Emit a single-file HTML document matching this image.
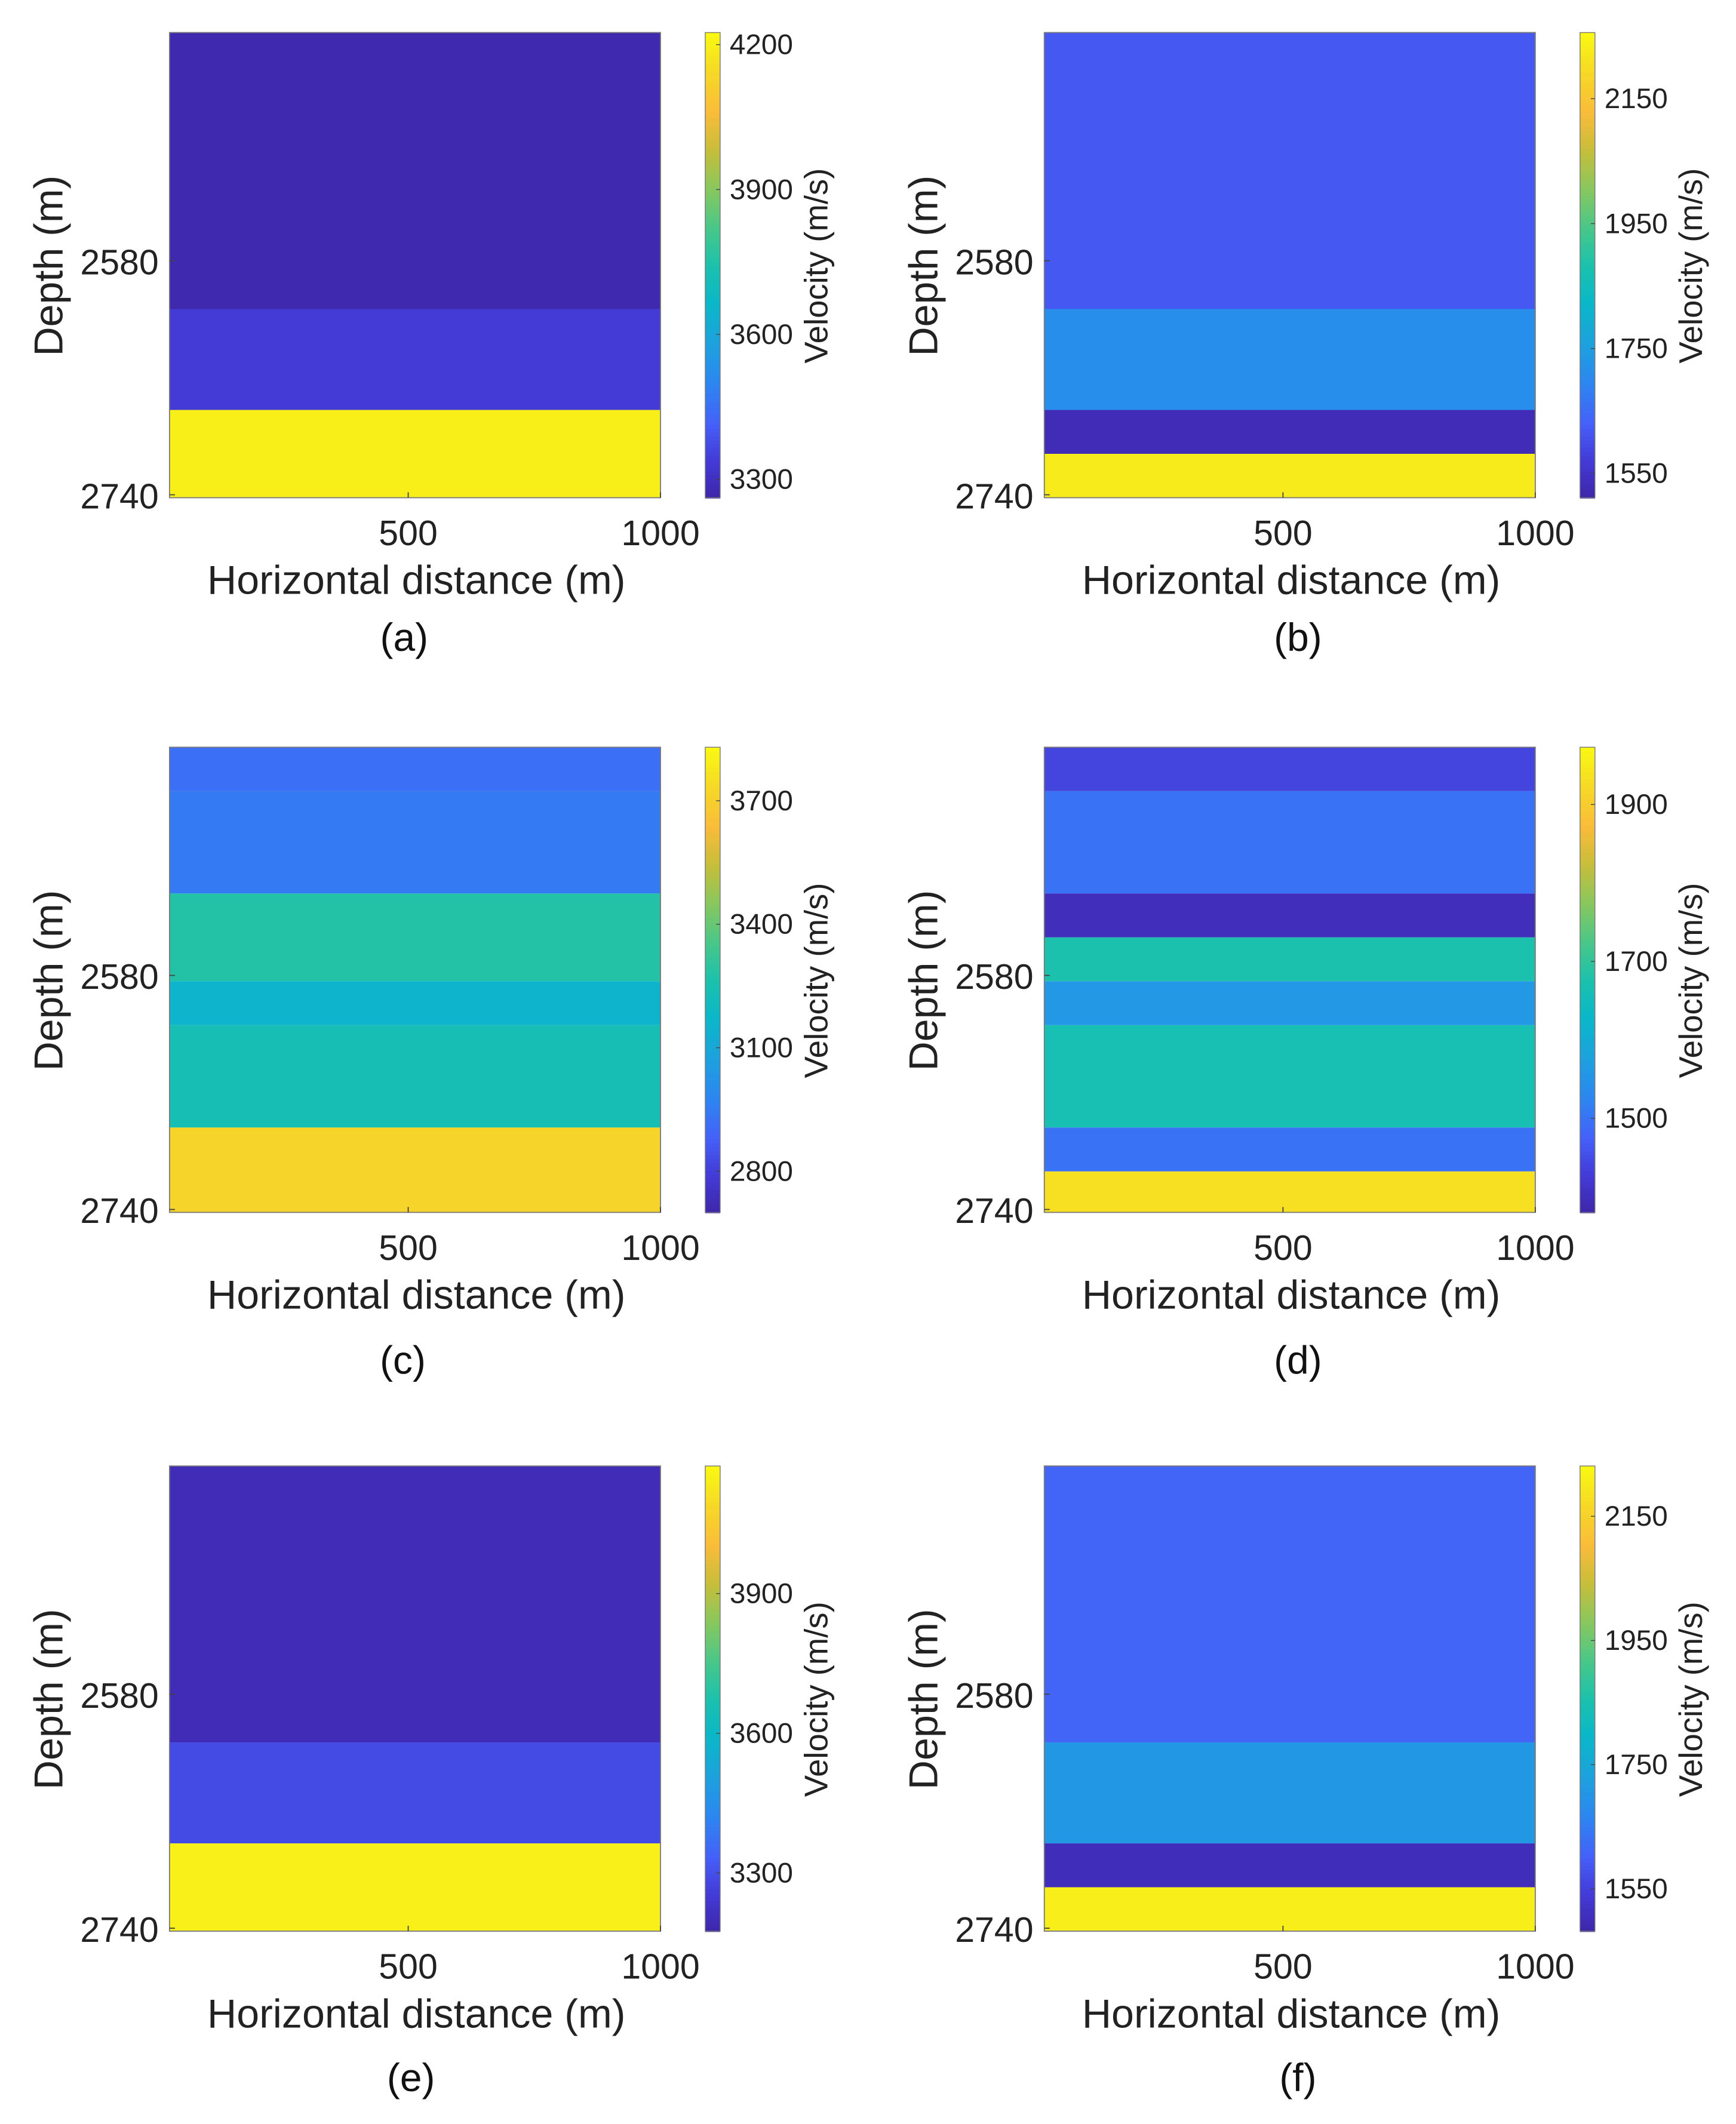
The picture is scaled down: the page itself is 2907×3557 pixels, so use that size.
<!DOCTYPE html>
<html><head><meta charset="utf-8"><style>
html,body{margin:0;padding:0;background:#fff;}
svg{display:block;font-family:"Liberation Sans",Arial,sans-serif;}
</style></head><body>
<svg id="fig" width="2907" height="3557" viewBox="0 0 1280 1566.2" preserveAspectRatio="none" xmlns="http://www.w3.org/2000/svg"></svg>
<script>
// ---- data ----
const depthRange = [2424, 2742];
const xRange = [27, 1000];
const xTicks = [500, 1000];
const yTicks = [2580, 2740];
const panelLabels = ['(a)','(b)','(c)','(d)','(e)','(f)'];
// layer boundaries (top depth of each layer) and velocities
const layersA = [2424, 2613, 2682];
const valuesA = [3272, 3340, 4200];
const layersB = [2424, 2613, 2682, 2712];
const valuesB = [1620, 1715, 1530, 2230];
const layersC = [2424, 2454, 2524, 2584, 2614, 2684];
const valuesC = [2920, 2950, 3280, 3160, 3240, 3720];
const layersD = [2424, 2454, 2524, 2554, 2584, 2614, 2684, 2714];
const valuesD = [1440, 1500, 1400, 1675, 1560, 1665, 1500, 1935];
const layersE = [2424, 2613, 2682];
const valuesE = [3200, 3290, 4150];
const layersF = [2424, 2613, 2682, 2712];
const valuesF = [1610, 1710, 1505, 2210];
const cbRangeA = [3262, 4225]; const cbTicksA = [3300, 3600, 3900, 4200];
const cbRangeB = [1511, 2256]; const cbTicksB = [1550, 1750, 1950, 2150];
const cbRangeC = [2700, 3830]; const cbTicksC = [2800, 3100, 3400, 3700];
const cbRangeD = [1380, 1973]; const cbTicksD = [1500, 1700, 1900];
const cbRangeE = [3175, 4174]; const cbTicksE = [3300, 3600, 3900];
const cbRangeF = [1482, 2231]; const cbTicksF = [1550, 1750, 1950, 2150];

const parula = [
 [0.00,[62,38,168]],[0.08,[68,58,214]],[0.16,[69,96,248]],[0.25,[44,135,240]],
 [0.33,[30,160,222]],[0.42,[10,183,200]],[0.50,[28,193,172]],[0.58,[72,199,138]],
 [0.67,[140,199,92]],[0.75,[200,190,58]],[0.83,[250,188,58]],[0.92,[246,218,38]],[1.00,[249,249,18]]];
function cmap(t){
  t=Math.max(0,Math.min(1,t));
  for(let i=1;i<parula.length;i++){
    if(t<=parula[i][0]){const a=parula[i-1],b=parula[i];const f=(t-a[0])/(b[0]-a[0]);
      const c=a[1].map((v,k)=>Math.round(v+(b[1][k]-v)*f));return `rgb(${c[0]},${c[1]},${c[2]})`;}
  }
  return 'rgb(249,249,18)';
}
const NS='http://www.w3.org/2000/svg';
const svg=document.getElementById('fig');
function mk(tag,attrs,parent){const e=document.createElementNS(NS,tag);for(const k in attrs)e.setAttribute(k,attrs[k]);(parent||svg).appendChild(e);return e;}

const panels=[
 {ox:125,oy:24,layers:layersA,values:valuesA,cb:cbRangeA,cbt:cbTicksA,lx:298,ly:470},
 {ox:770,oy:24,layers:layersB,values:valuesB,cb:cbRangeB,cbt:cbTicksB,lx:957,ly:470},
 {ox:125,oy:551,layers:layersC,values:valuesC,cb:cbRangeC,cbt:cbTicksC,lx:297,ly:1003},
 {ox:770,oy:551,layers:layersD,values:valuesD,cb:cbRangeD,cbt:cbTicksD,lx:957,ly:1003},
 {ox:125,oy:1081,layers:layersE,values:valuesE,cb:cbRangeE,cbt:cbTicksE,lx:303,ly:1532},
 {ox:770,oy:1081,layers:layersF,values:valuesF,cb:cbRangeF,cbt:cbTicksF,lx:957,ly:1532}];
const PW=362, PH=343;

panels.forEach((p,i)=>{
  const g=mk('g',{});
  
  
  const yS=d=>p.oy+(d-depthRange[0])/(depthRange[1]-depthRange[0])*PH;
  const xS=x=>p.ox+(x-xRange[0])/(xRange[1]-xRange[0])*PW;
  const cS=v=>(v-p.cb[0])/(p.cb[1]-p.cb[0]);
  const cy=v=>p.oy+PH-(v-p.cb[0])/(p.cb[1]-p.cb[0])*PH;
  p.layers.forEach((d,j)=>{
    const d2=j+1<p.layers.length?p.layers[j+1]:depthRange[1];
    const y1=Math.max(yS(d),p.oy), y2=Math.min(yS(d2),p.oy+PH);
    const r=mk('rect',{x:p.ox,y:y1,width:PW,height:y2-y1,fill:cmap(cS(p.values[j]))},g);
    
    
  });
  const fr=mk('rect',{x:p.ox,y:p.oy,width:PW,height:PH,fill:'none',stroke:'#7a7a7a','stroke-width':0.8},g);
  
  
  xTicks.forEach(t=>{
    const x=xS(t);
    mk('line',{x1:x,x2:x,y1:p.oy+PH,y2:p.oy+PH-4,stroke:'#444','stroke-width':0.8},g);
    const tx=mk('text',{x:x,y:p.oy+PH+35,'font-size':26,'text-anchor':'middle',fill:'#222'},g);
    tx.textContent=t;
    
    
  });
  yTicks.forEach(t=>{
    const y=yS(t);
    mk('line',{x1:p.ox,x2:p.ox+4,y1:y,y2:y,stroke:'#444','stroke-width':0.8},g);
    const tx=mk('text',{x:p.ox-8,y:y+10,'font-size':26,'text-anchor':'end',fill:'#222'},g);
    tx.textContent=t;
    
    
  });
  const xl=mk('text',{x:p.ox+182,y:p.oy+PH+71,'font-size':30,'text-anchor':'middle',fill:'#222'},g);
  xl.textContent='Horizontal distance (m)';
  
  
  const yl=mk('text',{x:0,y:0,'font-size':30,'text-anchor':'middle',fill:'#222',transform:`translate(${p.ox-79},${p.oy+172}) rotate(-90)`},g);
  yl.textContent='Depth (m)';
  
  
  const pl=mk('text',{x:p.lx,y:p.ly+10,'font-size':29,'text-anchor':'middle',fill:'#111'},g);
  pl.textContent=panelLabels[i];
  
  
  // colorbar
  const cx=p.ox+395, cw=11;
  const cb=mk('g',{},g);
  
  
  const N=120;
  for(let k=0;k<N;k++){
    mk('rect',{x:cx,y:p.oy+PH-(k+1)*PH/N,width:cw,height:PH/N+0.6,fill:cmap((k+0.5)/N)},cb);
  }
  mk('rect',{x:cx,y:p.oy,width:cw,height:PH,fill:'none',stroke:'#777','stroke-width':0.6},cb);
  p.cbt.forEach(t=>{
    const y=cy(t);
    mk('line',{x1:cx+cw,x2:cx+cw-3,y1:y,y2:y,stroke:'#444','stroke-width':0.6},cb);
    const tx=mk('text',{x:cx+cw+7,y:y+7,'font-size':21,fill:'#222'},cb);
    tx.textContent=t;
    
    
  });
  const cl=mk('text',{x:0,y:0,'font-size':24,'text-anchor':'middle',fill:'#222',transform:`translate(${cx+90},${p.oy+172}) rotate(-90)`},cb);
  cl.textContent='Velocity (m/s)';
  
  
});
</script>
</body></html>
